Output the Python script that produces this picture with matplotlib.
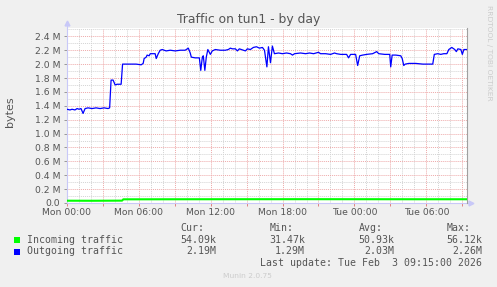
import numpy as np
import matplotlib
matplotlib.use("Agg")
import matplotlib.pyplot as plt
from matplotlib.patches import Rectangle
from matplotlib.ticker import FixedLocator, FixedFormatter

# saatler (Pazartesi 00:00'dan itibaren) ve degerler (MB)
out_hours = [0.00, 0.25, 0.42, 0.67, 0.84, 1.00, 1.17, 1.34, 1.51, 1.76, 2.09, 2.43, 2.76,
             3.10, 3.43, 3.56, 3.68, 3.85, 4.02, 4.18, 4.52, 4.64, 4.77, 5.27, 5.77, 6.19,
             6.36, 6.44, 6.61, 6.69, 6.86, 6.95, 7.20, 7.36, 7.45, 7.62, 7.78, 7.95, 8.28,
             8.62, 9.04, 9.46, 9.87, 10.13, 10.29, 10.38, 10.71, 11.05, 11.17, 11.30, 11.38,
             11.51, 11.63, 11.76, 11.97, 12.13, 12.38, 12.80, 13.22, 13.47, 13.64, 13.81,
             14.06, 14.23, 14.39, 14.90, 15.06, 15.31, 15.56, 15.82, 16.07, 16.32, 16.49,
             16.69, 16.82, 16.99, 17.15, 17.32, 17.66, 17.99, 18.33, 18.66, 18.83, 19.00,
             19.50, 19.92, 20.25, 20.59, 21.00, 21.17, 21.59, 22.01, 22.34, 22.51, 22.85,
             23.35, 23.51, 23.68, 24.10, 24.27, 24.44, 24.69, 25.02, 25.52, 25.86, 26.03,
             26.53, 26.95, 27.03, 27.15, 27.45, 27.87, 27.99, 28.12, 28.24, 28.54, 29.12,
             29.71, 30.21, 30.54, 30.67, 30.96, 31.21, 31.46, 31.72, 31.88, 32.13, 32.38,
             32.51, 32.64, 32.89, 33.01, 33.14, 33.40]
out_mb = [1.35, 1.34, 1.35, 1.34, 1.36, 1.35, 1.36, 1.29, 1.36, 1.37, 1.36, 1.37, 1.36,
          1.37, 1.36, 1.37, 1.77, 1.77, 1.70, 1.71, 1.71, 2.00, 2.00, 2.00, 2.00, 1.99,
          2.01, 2.08, 2.10, 2.13, 2.12, 2.15, 2.15, 2.15, 2.08, 2.15, 2.20, 2.21, 2.19,
          2.20, 2.19, 2.20, 2.20, 2.23, 2.16, 2.10, 2.09, 2.09, 1.91, 2.10, 2.12,
          1.91, 2.10, 2.21, 2.14, 2.19, 2.21, 2.20, 2.20, 2.21, 2.23, 2.22,
          2.22, 2.19, 2.22, 2.19, 2.22, 2.21, 2.24, 2.25, 2.23, 2.24, 2.20,
          1.96, 2.25, 2.02, 2.26, 2.15, 2.16, 2.15, 2.16, 2.15, 2.13, 2.15,
          2.16, 2.15, 2.16, 2.15, 2.17, 2.15, 2.15, 2.14, 2.16, 2.15, 2.14,
          2.14, 2.09, 2.14, 2.14, 1.98, 2.12, 2.13, 2.14, 2.15, 2.18, 2.15,
          2.14, 2.14, 1.96, 2.13, 2.13, 2.12, 2.08, 1.98, 2.00, 2.01, 2.01,
          2.00, 2.00, 2.00, 2.14, 2.15, 2.14, 2.15, 2.15, 2.21, 2.24, 2.21,
          2.18, 2.22, 2.21, 2.14, 2.21, 2.21]

in_hours = [0.0, 2.0, 4.6, 4.7, 10.0, 20.0, 30.0, 33.4]
in_mb = [0.033, 0.032, 0.034, 0.053, 0.054, 0.055, 0.054, 0.054]

x_labels = ["Mon 00:00", "Mon 06:00", "Mon 12:00", "Mon 18:00", "Tue 00:00", "Tue 06:00"]
y_labels = ["0.0", "0.2 M", "0.4 M", "0.6 M", "0.8 M", "1.0 M", "1.2 M",
            "1.4 M", "1.6 M", "1.8 M", "2.0 M", "2.2 M", "2.4 M"]

legend_names = ["Incoming traffic", "Outgoing traffic"]
legend_colors = ["#00ff00", "#0000ff"]
cur_vals = ["54.09k", "2.19M"]
min_vals = ["31.47k", "1.29M"]
avg_vals = ["50.93k", "2.03M"]
max_vals = ["56.12k", "2.26M"]

W, H = 497, 287
txt = "#555555"


def fx(px):
    return px / W


def fy(py):
    return 1 - py / H


fig = plt.figure(figsize=(W / 100, H / 100), dpi=100, facecolor="#f0f0f0")
ax = fig.add_axes([fx(67), fy(203), fx(467) - fx(67), fy(28) - fy(203)])
ax.set_facecolor("white")

ax.plot(in_hours, np.array(in_mb) * 1e6, color="#00ff00", lw=1.5, solid_capstyle="butt", zorder=3)
ax.plot(out_hours, np.array(out_mb) * 1e6, color="#0000ff", lw=0.9, zorder=4)

ax.set_xlim(0, 33.4)
ax.set_ylim(0, 2.52e6)

# eksen izgarasi
xmaj = np.arange(0, 34, 3)
ax.xaxis.set_major_locator(FixedLocator(xmaj))
ax.xaxis.set_major_formatter(FixedFormatter([x_labels[i // 2] if i % 2 == 0 else "" for i in range(len(xmaj))]))
ax.xaxis.set_minor_locator(FixedLocator(np.arange(0, 34, 1)))
ymaj = np.arange(len(y_labels)) * 0.2e6
ax.yaxis.set_major_locator(FixedLocator(ymaj))
ax.yaxis.set_major_formatter(FixedFormatter(y_labels))
ax.yaxis.set_minor_locator(FixedLocator(np.arange(0, 26) * 0.1e6))

ax.grid(which="minor", color="#d4d4d4", ls=(0, (1, 1)), lw=0.7)
ax.grid(which="major", color="#eeaaaa", ls=(0, (1, 1)), lw=0.7)
ax.set_axisbelow(True)

ax.tick_params(axis="x", which="major", length=2.5, width=0.7, color="#e08080", pad=1,
               labelsize=6.7, labelcolor=txt)
ax.tick_params(axis="x", which="minor", length=0)
ax.tick_params(axis="y", which="major", length=2, width=0.7, color="#999999", pad=3,
               labelsize=6.7, labelcolor=txt)
ax.tick_params(axis="y", which="minor", length=0)

for s in ["top"]:
    ax.spines[s].set_visible(False)
ax.spines["right"].set_color("#a0a0a0")
ax.spines["right"].set_linewidth(0.8)
ax.spines["left"].set_visible(False)
ax.spines["bottom"].set_visible(False)
ax.plot([0, 0], [0, 1.03], color="#c8c8f8", lw=0.8, transform=ax.transAxes, clip_on=False, zorder=1)
ax.plot([0, 1.01], [0, 0], color="#c8c8f8", lw=0.8, transform=ax.transAxes, clip_on=False, zorder=1)
ax.plot([0], [1.03], marker="^", ms=3.5, color="#c8c8f8", transform=ax.transAxes, clip_on=False)
ax.plot([1.01], [0], marker=">", ms=3.5, color="#c8c8f8", transform=ax.transAxes, clip_on=False)

fig.text(0.5, fy(19), "Traffic on tun1 - by day", ha="center", va="center", fontsize=8.9, color=txt)
fig.text(fx(10.5), fy(112), "bytes", rotation=90, ha="center", va="center", fontsize=8, color=txt)
fig.text(fx(488.5), fy(53), "RRDTOOL / TOBI OETIKER", rotation=270, ha="center", va="center",
         fontsize=5.4, color="#cccccc")

mono = dict(family="DejaVu Sans Mono", fontsize=7.15, color=txt, va="center")
fig.text(fx(180.7), fy(228), "Cur:", **mono)
fig.text(fx(270), fy(228), "Min:", **mono)
fig.text(fx(359), fy(228), "Avg:", **mono)
fig.text(fx(446.7), fy(228), "Max:", **mono)
rows_y = [240, 251.5]
for i in range(2):
    fig.add_artist(Rectangle((fx(14), fy(rows_y[i] + 3)), 6 / W, 6 / H, transform=fig.transFigure,
                             facecolor=legend_colors[i], edgecolor="none"))
    fig.text(fx(26.7), fy(rows_y[i]), legend_names[i], **mono)
    fig.text(fx(216.7), fy(rows_y[i]), cur_vals[i], ha="right", **mono)
    fig.text(fx(305), fy(rows_y[i]), min_vals[i], ha="right", **mono)
    fig.text(fx(394), fy(rows_y[i]), avg_vals[i], ha="right", **mono)
    fig.text(fx(482.3), fy(rows_y[i]), max_vals[i], ha="right", **mono)
fig.text(fx(482.3), fy(263.3), "Last update: Tue Feb  3 09:15:00 2026", ha="right", **mono)
fig.text(fx(247.5), fy(276), "Munin 2.0.75", ha="center", va="center", fontsize=5.4, color="#cccccc")

fig.savefig("out.png", dpi=100, facecolor=fig.get_facecolor())
